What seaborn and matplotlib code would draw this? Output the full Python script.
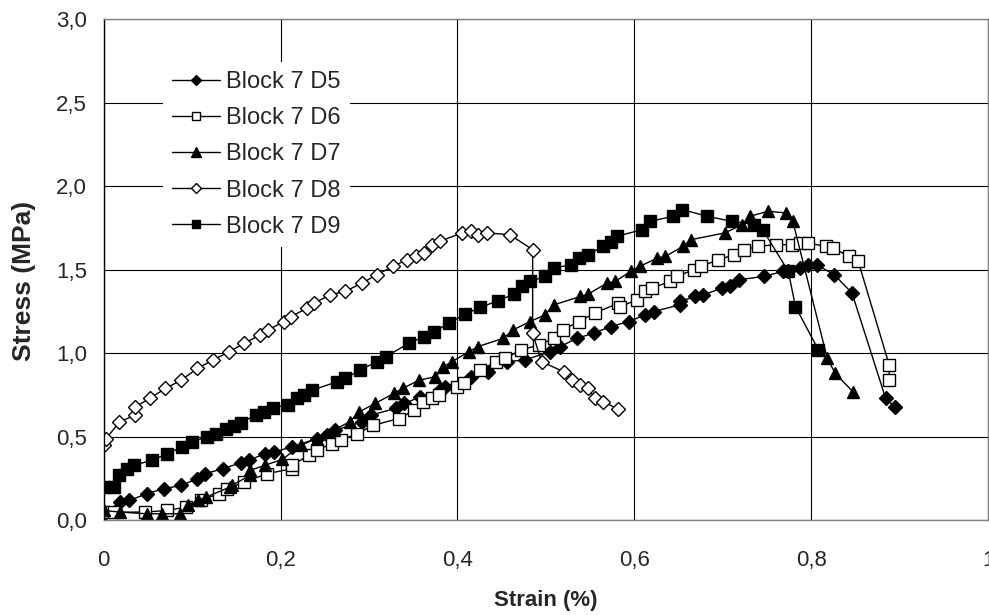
import numpy as np
import pandas as pd
import matplotlib
matplotlib.use('Agg')
import matplotlib.pyplot as plt
import seaborn as sns

# values
d5_x = [0.000, 0.019, 0.029, 0.049, 0.068, 0.088, 0.106, 0.115, 0.135, 0.155, 0.164, 0.183, 0.193,
        0.213, 0.241, 0.252, 0.262, 0.292, 0.302, 0.330, 0.340, 0.358, 0.380, 0.386, 0.415, 0.435,
        0.456, 0.476, 0.505, 0.516, 0.535, 0.554, 0.573, 0.594, 0.612, 0.622, 0.651, 0.651, 0.669,
        0.678, 0.699, 0.708, 0.718, 0.746, 0.768, 0.774, 0.787, 0.796, 0.806, 0.826, 0.846, 0.884, 0.894]
d5_y = [0.04, 0.11, 0.12, 0.16, 0.19, 0.21, 0.25, 0.28, 0.31, 0.345, 0.36, 0.40, 0.41,
        0.44, 0.49, 0.51, 0.54, 0.59, 0.63, 0.67, 0.70, 0.74, 0.78, 0.80, 0.86, 0.89,
        0.95, 0.96, 1.01, 1.04, 1.09, 1.12, 1.16, 1.19, 1.23, 1.25, 1.29, 1.31, 1.34,
        1.35, 1.39, 1.40, 1.44, 1.46, 1.49, 1.49, 1.51, 1.53, 1.53, 1.47, 1.36, 0.73, 0.68]

d6_x = [0.000, 0.012, 0.047, 0.072, 0.093, 0.110, 0.130, 0.140, 0.159, 0.185, 0.213, 0.213, 0.232,
        0.241, 0.258, 0.268, 0.287, 0.305, 0.334, 0.351, 0.361, 0.371, 0.379, 0.399, 0.407, 0.426,
        0.444, 0.454, 0.472, 0.492, 0.509, 0.519, 0.537, 0.555, 0.582, 0.584, 0.603, 0.612, 0.620,
        0.640, 0.648, 0.667, 0.675, 0.695, 0.713, 0.724, 0.740, 0.760, 0.778, 0.787, 0.796, 0.816,
        0.824, 0.843, 0.853, 0.888, 0.888]
d6_y = [0.05, 0.05, 0.05, 0.06, 0.08, 0.12, 0.16, 0.19, 0.23, 0.28, 0.31, 0.33, 0.39,
        0.42, 0.46, 0.48, 0.52, 0.57, 0.61, 0.66, 0.71, 0.73, 0.75, 0.80, 0.82, 0.90,
        0.95, 0.97, 1.02, 1.05, 1.09, 1.14, 1.19, 1.24, 1.30, 1.28, 1.32, 1.37, 1.39,
        1.43, 1.46, 1.50, 1.52, 1.56, 1.59, 1.62, 1.64, 1.65, 1.65, 1.66, 1.66, 1.64,
        1.63, 1.58, 1.55, 0.93, 0.84]

d7_x = [0.000, 0.019, 0.049, 0.066, 0.086, 0.095, 0.107, 0.116, 0.143, 0.145, 0.166, 0.166, 0.182,
        0.202, 0.223, 0.241, 0.260, 0.278, 0.289, 0.307, 0.328, 0.338, 0.357, 0.375, 0.384, 0.394,
        0.413, 0.423, 0.452, 0.463, 0.482, 0.499, 0.509, 0.539, 0.548, 0.569, 0.578, 0.596, 0.606,
        0.626, 0.635, 0.655, 0.664, 0.702, 0.722, 0.731, 0.751, 0.771, 0.779, 0.818, 0.827, 0.847]
d7_y = [0.06, 0.05, 0.04, 0.04, 0.04, 0.09, 0.12, 0.14, 0.20, 0.21, 0.27, 0.30, 0.33,
        0.365, 0.45, 0.49, 0.54, 0.59, 0.65, 0.70, 0.76, 0.79, 0.84, 0.86, 0.92, 0.95,
        1.01, 1.04, 1.09, 1.14, 1.19, 1.23, 1.29, 1.34, 1.355, 1.42, 1.43, 1.49, 1.52,
        1.57, 1.58, 1.64, 1.68, 1.72, 1.77, 1.82, 1.85, 1.84, 1.79, 0.97, 0.88, 0.77]

d8_x = [0.000, 0.003, 0.018, 0.036, 0.036, 0.052, 0.070, 0.088, 0.106, 0.124, 0.142, 0.159, 0.177,
        0.186, 0.204, 0.212, 0.230, 0.238, 0.256, 0.273, 0.292, 0.309, 0.327, 0.343, 0.353, 0.362,
        0.371, 0.380, 0.405, 0.415, 0.423, 0.433, 0.459, 0.485, 0.485, 0.495, 0.520, 0.529, 0.538,
        0.547, 0.556, 0.565, 0.582]
d8_y = [0.45, 0.49, 0.59, 0.63, 0.68, 0.73, 0.79, 0.84, 0.91, 0.96, 1.01, 1.06, 1.11,
        1.14, 1.19, 1.22, 1.27, 1.30, 1.35, 1.37, 1.42, 1.47, 1.52, 1.56, 1.58, 1.60,
        1.65, 1.67, 1.72, 1.73, 1.71, 1.72, 1.71, 1.62, 1.12, 0.95, 0.89, 0.84, 0.81,
        0.79, 0.73, 0.71, 0.665]

d9_x = [0.000, 0.012, 0.017, 0.027, 0.034, 0.055, 0.072, 0.089, 0.100, 0.117, 0.127, 0.138, 0.147,
        0.155, 0.172, 0.181, 0.191, 0.208, 0.219, 0.226, 0.236, 0.264, 0.273, 0.290, 0.309, 0.319,
        0.345, 0.362, 0.373, 0.390, 0.409, 0.426, 0.446, 0.464, 0.473, 0.482, 0.499, 0.509, 0.528,
        0.537, 0.547, 0.565, 0.573, 0.580, 0.609, 0.618, 0.644, 0.654, 0.682, 0.710, 0.735, 0.745,
        0.774, 0.782, 0.808]
d9_y = [0.20, 0.20, 0.27, 0.31, 0.33, 0.36, 0.40, 0.44, 0.47, 0.50, 0.52, 0.545, 0.565,
        0.585, 0.63, 0.65, 0.675, 0.69, 0.73, 0.75, 0.78, 0.83, 0.85, 0.90, 0.95, 0.98,
        1.06, 1.10, 1.125, 1.18, 1.235, 1.275, 1.315, 1.355, 1.40, 1.43, 1.46, 1.51, 1.53,
        1.57, 1.59, 1.64, 1.665, 1.70, 1.74, 1.79, 1.82, 1.86, 1.82, 1.79, 1.77, 1.74,
        1.49, 1.28, 1.02]

labels = ['Block 7 D5', 'Block 7 D6', 'Block 7 D7', 'Block 7 D8', 'Block 7 D9']
xtick_labels = ['0', '0,2', '0,4', '0,6', '0,8', '1']
ytick_labels = ['0,0', '0,5', '1,0', '1,5', '2,0', '2,5', '3,0']

series = [(d5_x, d5_y), (d6_x, d6_y), (d7_x, d7_y), (d8_x, d8_y), (d9_x, d9_y)]
styles = [dict(marker='D', mfc='black', ms=7),
          dict(marker='s', mfc='white', ms=8),
          dict(marker='^', mfc='black', ms=9),
          dict(marker='D', mfc='white', ms=7),
          dict(marker='s', mfc='black', ms=8)]

sns.set_style('white')
plt.rcParams['font.family'] = ['Liberation Sans', 'DejaVu Sans']

fig = plt.figure(figsize=(9.89, 6.15), dpi=100)
ax = fig.add_axes([0.1047, 0.1537, 0.8946, 0.8154])

for (x, y), lab, st in zip(series, labels, styles):
    df = pd.DataFrame({'x': x, 'y': y})
    sns.lineplot(data=df, x='x', y='y', sort=False, estimator=None, ax=ax, color='black',
                 lw=1, label=lab, marker=st['marker'], markersize=st['ms'],
                 markerfacecolor=st['mfc'], markeredgecolor='black', markeredgewidth=1)

ax.set_xlim(0, 1)
ax.set_ylim(0, 3)
ax.set_xticks(np.linspace(0, 1, 6))
ax.set_xticklabels(xtick_labels)
ax.set_yticks(np.linspace(0, 3, 7))
ax.set_yticklabels(ytick_labels)
ax.tick_params(axis='both', direction='out', length=5, width=1, color='black', labelsize=16)
ax.tick_params(axis='x', pad=16)
ax.tick_params(axis='y', pad=7)
ax.grid(True, color='black', lw=0.8)

ax.spines['left'].set_color('black')
for s in ['top', 'right', 'bottom']:
    ax.spines[s].set_color('#808080')
for s in ax.spines.values():
    s.set_linewidth(1)
    s.set_visible(True)

ax.set_xlabel('Strain (%)', fontsize=16, fontweight='bold')
ax.set_ylabel('Stress (MPa)', fontsize=19, fontweight='bold')
ax.xaxis.set_label_coords(0.5, -0.138)
ax.yaxis.set_label_coords(-0.076, 0.478)

leg = ax.legend(loc='upper left', bbox_to_anchor=(0.0672, 0.915), fontsize=17, frameon=True,
                fancybox=False, framealpha=1, facecolor='white', edgecolor='none',
                handlelength=2.0, handletextpad=0.28, labelspacing=0.6, borderpad=0.4,
                markerscale=0.8, borderaxespad=0)

fig.savefig('out.png', dpi=100)
